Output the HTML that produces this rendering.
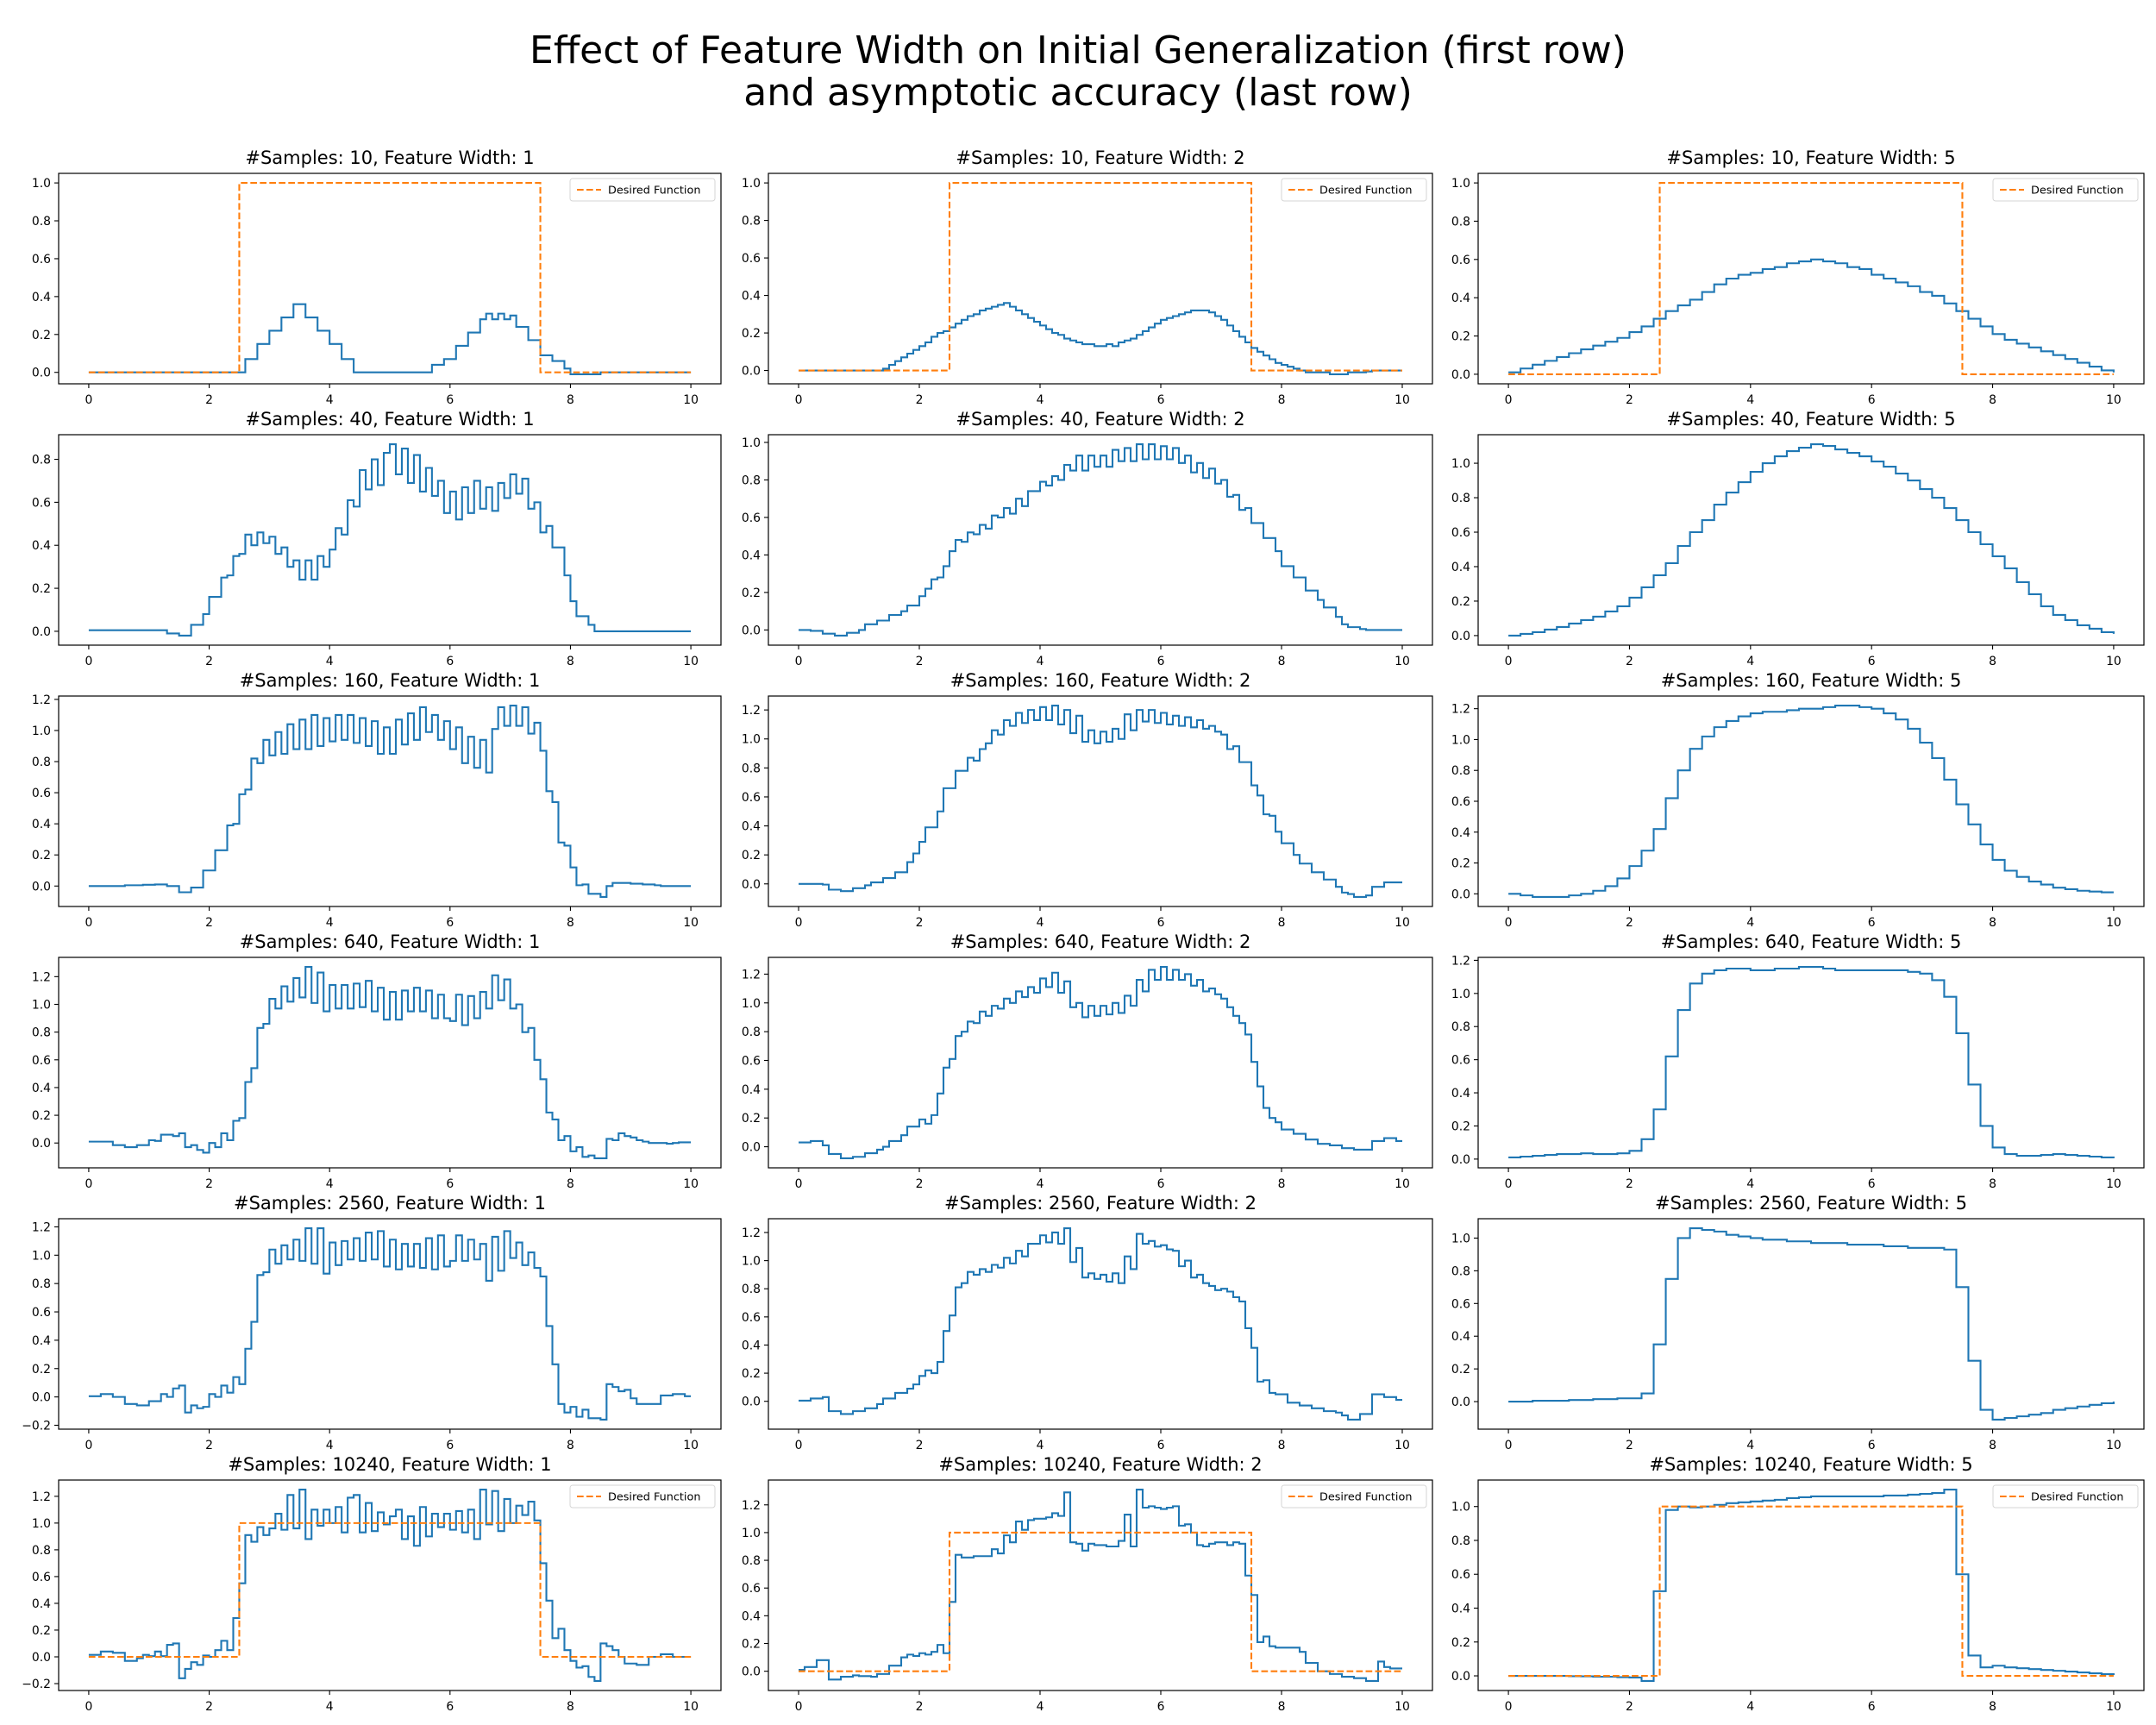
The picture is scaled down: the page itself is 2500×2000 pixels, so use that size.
<!DOCTYPE html>
<html><head><meta charset="utf-8">
<style>
html,body{margin:0;padding:0;background:#fff;}
svg{display:block;font-family:"DejaVu Sans","Liberation Sans",sans-serif;}
</style></head>
<body>
<svg id="chart" width="2500" height="2000" viewBox="0 0 2500 2000" xmlns="http://www.w3.org/2000/svg">
<rect x="0" y="0" width="2500" height="2000" fill="#fff"/>
<text x="1250" y="73" text-anchor="middle" font-size="44" fill="#000">Effect of Feature Width on Initial Generalization (first row)</text>
<text x="1250" y="122" text-anchor="middle" font-size="44" fill="#000">and asymptotic accuracy (last row)</text>
</svg>
<script>
// ---- data (step values on a uniform grid from x=0 to x=10) ----
const xTicks = [0, 2, 4, 6, 8, 10];
const desiredX = [0, 2.5, 7.5, 10];
const desiredY = [0, 1, 0, 0];

const s10_w1 = [0,0,0,0,0,0,0,0,0,0, 0,0,0,0,0,0,0,0,0,0, 0,0,0,0,0,0,.07,.07,.15,.15,
 .22,.22,.29,.29,.36,.36,.29,.29,.22,.22, .15,.15,.07,.07,0,0,0,0,0,0, 0,0,0,0,0,0,0,.04,.04,.07,
 .07,.14,.14,.21,.21,.28,.31,.28,.31,.28, .30,.24,.24,.17,.17,.09,.09,.06,.06,.02,
 -.01,-.01,-.01,-.01,-.01,0,0,0,0,0, 0,0,0,0,0,0,0,0,0,0,0];
const s40_w1 = [.005,.005,.005,.005,.005,.005,.005,.005,.005,.005, .005,.005,.005,-.01,-.01,-.02,-.02,.03,.03,.08,
 .16,.16,.25,.26,.35,.36,.45,.40,.46,.41, .44,.36,.39,.30,.33,.24,.33,.24,.35,.30,
 .38,.48,.45,.61,.58,.75,.66,.80,.68,.83, .87,.73,.85,.69,.82,.65,.76,.63,.70,.55,
 .65,.52,.67,.55,.70,.57,.67,.56,.69,.62, .73,.64,.71,.57,.60,.46,.49,.39,.39,.26,
 .14,.07,.07,.03,0,0,0,0,0,0, 0,0,0,0,0,0,0,0,0,0,0];
const s160_w1 = [0,0,0,0,0,0,.005,.005,.005,.008, .008,.01,.01,0,0,-.04,-.04,-.01,-.01,.1,
 .1,.23,.23,.39,.40,.59,.62,.82,.79,.94, .84,.99,.85,1.04,.88,1.07,.88,1.10,.90,1.08,
 .93,1.10,.94,1.10,.92,1.08,.90,1.06,.85,1.02, .85,1.07,.91,1.11,.94,1.15,.99,1.10,.94,1.06,
 .88,1.02,.79,.96,.76,.94,.73,1.01,1.15,1.03, 1.16,1.03,1.15,.98,1.05,.87,.61,.54,.28,.26,
 .12,.005,.01,-.05,-.05,-.07,0,.02,.02,.02, .015,.015,.01,.01,.005,0,0,0,0,0,0];
const s640_w1 = [.01,.01,.01,.01,-.015,-.015,-.03,-.03,-.015,-.015, .02,.015,.06,.06,.05,.07,-.03,-.015,-.05,-.07,
 0,-.03,.07,.02,.16,.18,.44,.54,.83,.86, 1.04,.97,1.13,1.02,1.19,1.05,1.27,1.01,1.23,.95,
 1.14,.97,1.14,.97,1.15,.98,1.17,.95,1.12,.89, 1.09,.89,1.10,.95,1.12,.95,1.10,.90,1.07,.90,
 .88,1.07,.85,1.06,.90,1.09,.97,1.21,1.03,1.18, .97,1.0,.80,.83,.60,.46,.22,.17,.02,.05,
 -.06,-.03,-.10,-.09,-.11,-.11,.03,.02,.07,.05, .04,.02,.01,0,0,0,-.005,0,.005,.005,.005];
const s2560_w1 = [.005,.005,.02,.02,0,0,-.05,-.05,-.06,-.06, -.03,-.03,.02,0,.06,.08,-.11,-.06,-.08,-.07,
 .02,0,.08,.03,.14,.09,.34,.53,.86,.88, 1.04,.94,1.07,.97,1.11,.96,1.19,.94,1.19,.87,
 1.09,.93,1.10,.97,1.12,.96,1.16,.97,1.17,.92, 1.11,.90,1.08,.92,1.08,.91,1.12,.90,1.14,.92,
 .96,1.14,.96,1.11,.97,1.08,.82,1.13,.89,1.17, .98,1.09,.93,1.02,.91,.85,.50,.23,-.05,-.11,
 -.07,-.14,-.09,-.15,-.15,-.16,.09,.07,.04,.05, -.01,-.05,-.05,-.05,-.05,.01,.01,.02,.02,.005,.005];
const s10240_w1 = [.015,.015,.04,.04,.03,.03,-.03,-.03,-.01,.015, .005,.04,.005,.09,.10,-.16,-.09,-.04,-.06,.01,
 0,.05,.12,.05,.29,.55,.91,.86,.97,.91, .96,1.07,.95,1.21,.96,1.25,.88,1.10,.98,1.10,
 1.0,1.12,.93,1.19,1.21,.93,1.15,.94,1.08,.99, 1.05,1.10,.88,1.05,.83,1.12,.90,1.07,.97,1.07,
 .95,1.09,.93,1.10,.88,1.25,.99,1.24,.94,1.18, 1.0,1.13,1.06,1.16,1.02,.70,.42,.14,.21,.05,
 -.03,-.08,-.07,-.15,-.18,.10,.08,.05,0,-.05, -.05,-.06,-.06,0,0,.02,.02,0,0,0,0];

const s10_w2 = [0,0,0,0,0,0,0,0,0,0, 0,0,0,0,.01,.03,.05,.07,.09,.11,
 .13,.15,.18,.2,.21,.23,.25,.27,.29,.3, .32,.33,.34,.35,.36,.34,.32,.3,.28,.26,
 .24,.22,.2,.19,.17,.16,.15,.14,.14,.13, .13,.14,.13,.15,.16,.17,.19,.21,.23,.25,
 .27,.28,.29,.3,.31,.32,.32,.32,.31,.29, .27,.24,.21,.18,.15,.12,.1,.08,.06,.04,
 .03,.02,.01,0,-.01,-.01,-.01,-.01,-.02,-.02, -.02,-.01,-.01,-.01,-.005,0,0,0,0,0,0];
const s40_w2 = [0,0,-.005,-.005,-.02,-.02,-.03,-.03,-.015,-.015, 0,.03,.03,.05,.05,.08,.08,.1,.13,.13,
 .18,.22,.27,.28,.34,.42,.48,.47,.52,.51, .56,.54,.61,.6,.65,.62,.7,.66,.74,.74,
 .79,.77,.82,.8,.88,.85,.93,.85,.93,.87, .93,.87,.96,.9,.97,.9,.99,.91,.99,.91,
 .98,.91,.97,.89,.93,.84,.89,.81,.86,.78, .80,.71,.72,.64,.65,.57,.57,.49,.49,.42,
 .34,.34,.28,.28,.21,.21,.16,.12,.12,.07, .03,.015,.015,.005,0,0,0,0,0,0,0];
const s160_w2 = [0,0,0,0,-.005,-.04,-.04,-.05,-.05,-.03, -.03,-.01,.01,.01,.04,.04,.08,.08,.15,.21,
 .29,.39,.39,.5,.66,.66,.78,.78,.87,.85, .93,.97,1.06,1.03,1.13,1.09,1.18,1.11,1.2,1.13,
 1.22,1.13,1.23,1.1,1.20,1.04,1.16,.98,1.06,.97, 1.05,.98,1.07,1.0,1.17,1.06,1.2,1.12,1.2,1.11,
 1.18,1.10,1.16,1.09,1.15,1.08,1.13,1.07,1.09,1.05, 1.03,.93,.95,.84,.84,.68,.61,.48,.47,.36,
 .28,.28,.2,.14,.14,.08,.08,.03,.03,-.02, -.06,-.07,-.09,-.09,-.08,-.02,-.02,.01,.01,.01,.01];
const s640_w2 = [.03,.03,.04,.04,.01,-.05,-.05,-.08,-.08,-.07, -.07,-.045,-.045,-.02,0,.04,.04,.08,.14,.14,
 .19,.16,.22,.37,.55,.61,.77,.80,.87,.86, .94,.91,.98,.96,1.03,1.0,1.08,1.04,1.11,1.07,
 1.17,1.11,1.21,1.07,1.15,.97,1.0,.9,.98,.91, .98,.92,1.0,.93,1.05,.98,1.16,1.08,1.23,1.16,
 1.25,1.16,1.23,1.16,1.2,1.12,1.16,1.08,1.1,1.06, 1.03,.97,.91,.86,.78,.59,.42,.27,.20,.17,
 .12,.12,.09,.09,.05,.05,.02,.02,.01,.01, -.01,-.01,-.02,-.02,-.02,.04,.04,.06,.06,.04,.04];
const s2560_w2 = [.005,.005,.02,.02,.03,-.07,-.07,-.09,-.09,-.07, -.07,-.05,-.05,-.02,.02,.02,.06,.06,.09,.12,
 .18,.22,.2,.28,.5,.61,.81,.84,.92,.9, .94,.92,.97,.95,1.02,.98,1.07,1.03,1.12,1.12,
 1.18,1.13,1.2,1.12,1.23,.99,1.09,.88,.91,.87, .9,.85,.91,.84,1.03,.94,1.19,1.12,1.14,1.10,
 1.11,1.08,1.07,.96,1.0,.88,.9,.84,.82,.79, .80,.78,.74,.71,.52,.38,.14,.15,.06,.05,
 .05,-.01,-.01,-.03,-.03,-.05,-.05,-.07,-.07,-.08, -.1,-.13,-.13,-.09,-.09,.05,.05,.03,.03,.01,.01];
const s10240_w2 = [.01,.03,.03,.08,.08,-.06,-.06,-.04,-.04,-.03, -.035,-.035,-.04,-.02,-.02,.04,.04,.10,.12,.11,
 .13,.12,.14,.19,.13,.5,.84,.82,.82,.83, .83,.83,.88,.85,.98,.93,1.08,1.02,1.09,1.10,
 1.10,1.11,1.14,1.12,1.29,.93,.92,.87,.92,.91, .91,.90,.90,.94,1.13,.90,1.31,1.18,1.19,1.18,
 1.17,1.18,1.19,1.05,1.06,1.0,.91,.90,.92,.93, .93,.91,.93,.92,.69,.55,.21,.25,.18,.17,
 .17,.17,.17,.14,.06,.06,0,0,-.02,-.02, -.04,-.04,-.05,-.05,-.07,-.07,.07,.03,.02,.02,.02];

const s10_w5 = [.01,.03,.05,.07,.09,.11,.13,.15,.17,.19,.22,.25,.29,.33,.36,.39,.43,.47,.50,.52,.53,.55,.56,.58,.59,.60,
 .59,.58,.56,.55,.52,.50,.48,.46,.43,.41,.37,.33,.29,.25,.21,.18,.16,.14,.12,.10,.08,.06,.04,.02,.01];
const s40_w5 = [0,.01,.02,.035,.05,.07,.09,.11,.14,.17,.22,.28,.35,.42,.52,.6,.67,.76,.83,.89,.95,1.0,1.04,1.07,1.09,1.11,
 1.10,1.08,1.06,1.04,1.01,.98,.94,.9,.85,.8,.74,.67,.6,.53,.46,.39,.31,.24,.17,.12,.09,.06,.04,.02,.01];
const s160_w5 = [0,-.01,-.02,-.02,-.02,-.01,0,.02,.05,.1,.18,.28,.42,.62,.8,.94,1.02,1.08,1.12,1.15,1.17,1.18,1.18,1.19,1.2,1.2,
 1.21,1.22,1.22,1.21,1.2,1.17,1.13,1.07,.98,.88,.74,.58,.45,.32,.22,.15,.11,.08,.06,.04,.03,.02,.015,.01,.01];
const s640_w5 = [.01,.015,.02,.025,.03,.03,.035,.03,.03,.035,.05,.12,.3,.62,.9,1.06,1.12,1.14,1.15,1.15,1.14,1.14,1.15,1.15,1.16,1.16,
 1.15,1.14,1.14,1.14,1.14,1.14,1.14,1.13,1.12,1.08,.98,.76,.45,.2,.07,.03,.02,.02,.025,.03,.025,.02,.015,.01,.005];
const s2560_w5 = [0,0,.005,.005,.005,.01,.01,.015,.015,.02,.02,.05,.35,.75,1.0,1.06,1.05,1.04,1.02,1.01,1.0,.99,.99,.98,.98,.97,
 .97,.97,.96,.96,.96,.95,.95,.94,.94,.94,.93,.7,.25,-.05,-.11,-.1,-.09,-.08,-.07,-.05,-.04,-.03,-.02,-.01,0];
const s10240_w5 = [0,0,0,0,0,-.002,-.003,-.005,-.005,-.008,-.01,-.03,.5,.98,1.0,.995,1.0,1.01,1.02,1.025,1.03,1.035,1.04,1.05,1.055,1.06,
 1.06,1.06,1.06,1.06,1.06,1.065,1.065,1.07,1.075,1.08,1.1,.6,.12,.05,.06,.05,.045,.04,.035,.03,.025,.02,.015,.01,.005];

const samplesRows = [10, 40, 160, 640, 2560, 10240];
const widthCols = [1, 2, 5];
const seriesGrid = [
  [s10_w1, s10_w2, s10_w5],
  [s40_w1, s40_w2, s40_w5],
  [s160_w1, s160_w2, s160_w5],
  [s640_w1, s640_w2, s640_w5],
  [s2560_w1, s2560_w2, s2560_w5],
  [s10240_w1, s10240_w2, s10240_w5]
];

// ---- layout ----
const NS = 'http://www.w3.org/2000/svg';
const svg = document.getElementById('chart');
const colLeft = [68, 891, 1714];
const colWidth = [768, 770, 772];
const rowTop0 = 201, rowPitch = 303, axH = 244;

function mk(tag, attrs, parent) {
  const e = document.createElementNS(NS, tag);
  for (const k in attrs) e.setAttribute(k, attrs[k]);
  parent.appendChild(e);
  return e;
}
function fmt(v) {
  const s = Math.abs(v) < 1e-9 ? '0.0' : v.toFixed(1);
  return s.replace('-', '\u2212');
}

for (let r = 0; r < 6; r++) {
  for (let c = 0; c < 3; c++) {
    const vals = seriesGrid[r][c];
    const hasDesired = (r === 0 || r === 5);
    const L = colLeft[c], W = colWidth[c], T = rowTop0 + r * rowPitch, H = axH;
    const g = mk('g', {}, svg);
    
    

    let mn = Math.min(...vals), mx = Math.max(...vals);
    if (hasDesired) { mn = Math.min(mn, ...desiredY); mx = Math.max(mx, ...desiredY); }
    const rng = mx - mn;
    const lo = mn - 0.05 * rng, hi = mx + 0.05 * rng;
    const xs = v => L + W * (v + 0.5) / 11;
    const ys = v => T + H * (hi - v) / (hi - lo);

    const clipId = 'clip' + r + '_' + c;
    const cp = mk('clipPath', {id: clipId}, g);
    mk('rect', {x: L, y: T, width: W, height: H}, cp);

    const tt = mk('text', {x: L + W / 2, y: T - 11, 'text-anchor': 'middle', 'font-size': 21, fill: '#000'}, g);
    
    
    tt.textContent = '#Samples: ' + samplesRows[r] + ', Feature Width: ' + widthCols[c];

    for (const xv of xTicks) {
      const px = xs(xv);
      const tk = mk('line', {x1: px, x2: px, y1: T + H, y2: T + H + 5, stroke: '#000', 'stroke-width': 1.1}, g);
      
      
      const tl = mk('text', {x: px, y: T + H + 23, 'text-anchor': 'middle', 'font-size': 13.9, fill: '#000'}, g);
      
      
      tl.textContent = String(xv);
    }
    const start = Math.ceil(lo / 0.2 - 1e-9);
    for (let k = start; k * 0.2 <= hi + 1e-9; k++) {
      const yv = k * 0.2;
      const py = ys(yv);
      const tk = mk('line', {x1: L - 5, x2: L, y1: py, y2: py, stroke: '#000', 'stroke-width': 1.1}, g);
      
      
      const tl = mk('text', {x: L - 9, y: py + 5, 'text-anchor': 'end', 'font-size': 13.9, fill: '#000'}, g);
      
      
      tl.textContent = fmt(yv);
    }

    const n = vals.length, dx = 10 / (n - 1);
    let d = 'M' + xs(0).toFixed(2) + ',' + ys(vals[0]).toFixed(2);
    for (let i = 1; i < n; i++) {
      d += 'H' + xs(i * dx).toFixed(2) + 'V' + ys(vals[i]).toFixed(2);
    }
    const pl = mk('path', {d: d, fill: 'none', stroke: '#1f77b4', 'stroke-width': 2.1, 'stroke-linejoin': 'miter', 'clip-path': 'url(#' + clipId + ')'}, g);
    
    

    if (hasDesired) {
      let dd = 'M' + xs(desiredX[0]).toFixed(2) + ',' + ys(desiredY[0]).toFixed(2);
      for (let i = 1; i < desiredX.length; i++) {
        dd += 'H' + xs(desiredX[i]).toFixed(2) + 'V' + ys(desiredY[i]).toFixed(2);
      }
      const dl = mk('path', {d: dd, fill: 'none', stroke: '#ff7f0e', 'stroke-width': 2.1, 'stroke-dasharray': '7.7,3.3'}, g);
      
      

      const lg = mk('g', {}, g);
      
      
      const lx = L + W - 7 - 168, ly = T + 6;
      mk('rect', {x: lx, y: ly, width: 168, height: 26, rx: 3, fill: '#fff', 'fill-opacity': 0.8, stroke: '#d6d6d6', 'stroke-width': 1}, lg);
      const ls = mk('line', {x1: lx + 8, x2: lx + 36, y1: ly + 13, y2: ly + 13, stroke: '#ff7f0e', 'stroke-width': 2.1, 'stroke-dasharray': '7.7,3.3'}, lg);
      
      
      const lt = mk('text', {x: lx + 44, y: ly + 17.5, 'font-size': 12.8, fill: '#000'}, lg);
      
      
      lt.textContent = 'Desired Function';
    }

    const fr = mk('rect', {x: L, y: T, width: W, height: H, fill: 'none', stroke: '#000', 'stroke-width': 1.2}, g);
    
    
  }
}
</script>
</body></html>
